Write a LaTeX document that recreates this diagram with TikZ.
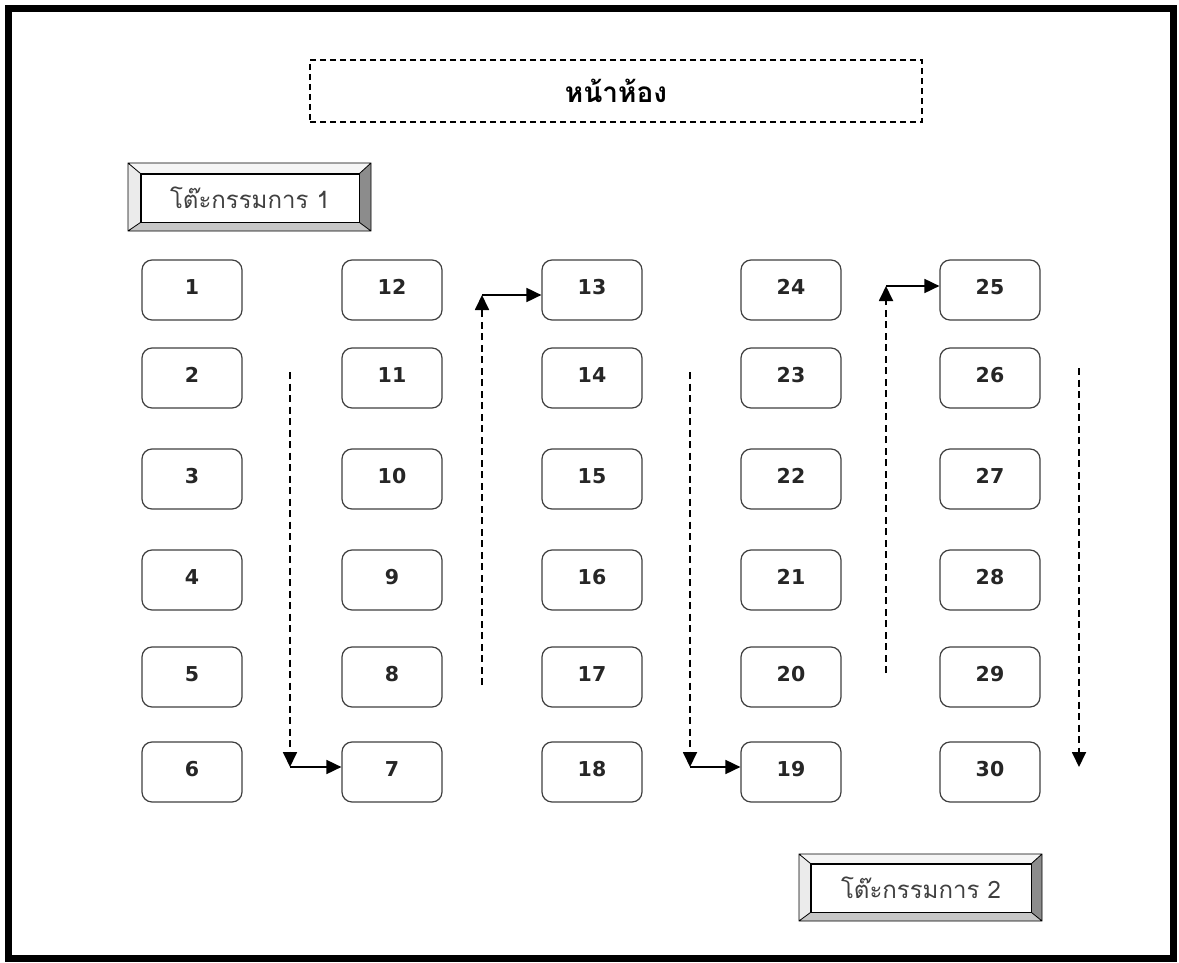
\documentclass[tikz,border=0pt]{standalone}
\usepackage{fontspec}
\setmainfont{DejaVu Sans}
\newfontfamily\thaifont[Script=Thai]{Loma}
\usetikzlibrary{arrows.meta}
\begin{document}
\begin{tikzpicture}[x=1pt,y=-1pt,
  seat/.style={draw=black!75, line width=1.2pt, rounded corners=10pt,
    minimum width=100pt, minimum height=60pt, inner sep=0pt,
    font=\bfseries\fontsize{20.5}{22}\selectfont, text=black!85},
  walk/.style={line width=1.8pt, dash pattern=on 7pt off 4.5pt,
    -{Triangle[length=15pt,width=14pt]}},
  turn/.style={line width=1.8pt, -{Triangle[length=15pt,width=14pt]}},
  bevelin/.style={draw=black, line width=0.8pt, fill=white,
    minimum width=#1, minimum height=48pt, inner sep=0pt,
    font=\thaifont\fontsize{24}{26}\selectfont, text=black!75}]
\useasboundingbox (0,0) rectangle (1179,963);
\fill[white] (0,0) rectangle (1179,963);
% room outline
\draw[line width=7pt] (8.5,8.5) rectangle (1173.5,958.5);

% front of the room
\node[draw, line width=1.4pt, dash pattern=on 6pt off 4pt,
  minimum width=612pt, minimum height=62pt,
  font=\thaifont\bfseries\fontsize{28}{30}\selectfont] (front) at (616,91) {หน้าห้อง};

% examiner desks with bevelled frames
\foreach \nm/\cx/\cy/\w/\lbl in {c1/250/198/218pt/1, c2/921/888/220pt/2} {
  \node[bevelin=\w] (\nm) at (\cx,\cy) {\raisebox{1pt}{โต๊ะกรรมการ \lbl}};
}
% bevels of desk 1
\path (c1.north west) coordinate (c1a) (c1.north east) coordinate (c1b)
      (c1.south east) coordinate (c1c) (c1.south west) coordinate (c1d);
\coordinate (o1a) at (128,163); \coordinate (o1b) at (371,163);
\coordinate (o1c) at (371,231); \coordinate (o1d) at (128,231);
\fill[black!4]  (o1a) -- (o1b) -- (c1b) -- (c1a) -- cycle;
\fill[black!8]  (o1a) -- (c1a) -- (c1d) -- (o1d) -- cycle;
\fill[black!45] (o1b) -- (o1c) -- (c1c) -- (c1b) -- cycle;
\fill[black!22] (o1d) -- (c1d) -- (c1c) -- (o1c) -- cycle;
\draw[line width=0.8pt] (o1a) rectangle (o1c)
  (o1a) -- (c1a) (o1b) -- (c1b) (o1c) -- (c1c) (o1d) -- (c1d);
\draw[line width=0.8pt] (c1a) rectangle (c1c);
% bevels of desk 2
\path (c2.north west) coordinate (c2a) (c2.north east) coordinate (c2b)
      (c2.south east) coordinate (c2c) (c2.south west) coordinate (c2d);
\coordinate (o2a) at (799,854); \coordinate (o2b) at (1042,854);
\coordinate (o2c) at (1042,921); \coordinate (o2d) at (799,921);
\fill[black!4]  (o2a) -- (o2b) -- (c2b) -- (c2a) -- cycle;
\fill[black!8]  (o2a) -- (c2a) -- (c2d) -- (o2d) -- cycle;
\fill[black!45] (o2b) -- (o2c) -- (c2c) -- (c2b) -- cycle;
\fill[black!22] (o2d) -- (c2d) -- (c2c) -- (o2c) -- cycle;
\draw[line width=0.8pt] (o2a) rectangle (o2c)
  (o2a) -- (c2a) (o2b) -- (c2b) (o2c) -- (c2c) (o2d) -- (c2d);
\draw[line width=0.8pt] (c2a) rectangle (c2c);

% seats, numbered in a snake order column by column
\foreach \col/\cx in {0/192,1/392,2/592,3/791,4/990} {
  \foreach \row/\cy in {1/290,2/378,3/479,4/580,5/677,6/772} {
    \pgfmathtruncatemacro{\num}{mod(\col,2)==0 ? 6*\col+\row : 6*\col+7-\row}
    \node[seat] (s\num) at (\cx,\cy) {\raisebox{6pt}{\num}};
  }
}

% walking order between the columns
\coordinate (p1) at (290,372); \coordinate (q1) at (290,767);
\draw[walk] (p1) -- (q1);
\draw[turn] (q1) -- (s7.west |- q1);

\coordinate (p2) at (482,685); \coordinate (q2) at (482,295);
\draw[walk] (p2) -- (q2);
\draw[turn] (q2) -- (s13.west |- q2);

\coordinate (p3) at (690,372); \coordinate (q3) at (690,767);
\draw[walk] (p3) -- (q3);
\draw[turn] (q3) -- (s19.west |- q3);

\coordinate (p4) at (886,673); \coordinate (q4) at (886,286);
\draw[walk] (p4) -- (q4);
\draw[turn] (q4) -- (s25.west |- q4);

\coordinate (p5) at (1079,368); \coordinate (q5) at (1079,767);
\draw[walk] (p5) -- (q5);
\end{tikzpicture}
\end{document}
